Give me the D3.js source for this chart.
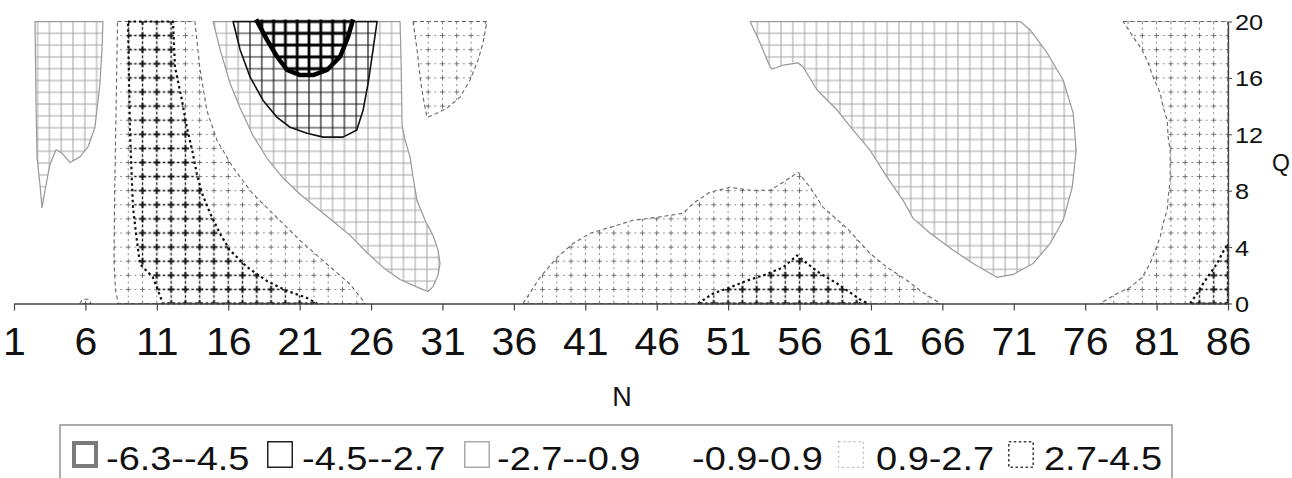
<!DOCTYPE html>
<html>
<head>
<meta charset="utf-8">
<script src="https://cdn.jsdelivr.net/npm/d3@7"></script>
<style>
  html, body { margin: 0; padding: 0; background: #fff; }
  svg { display: block; }
  text { font-family: "Liberation Sans", Arial, Helvetica, sans-serif; fill: #111; }
</style>
</head>
<body>
<svg id="chart" width="1292" height="478"></svg>
<script>
// tick labels and legend
var nTicks = [1, 6, 11, 16, 21, 26, 31, 36, 41, 46, 51, 56, 61, 66, 71, 76, 81, 86];
var qTicks = [0, 4, 8, 12, 16, 20];
var bandLabels = ["-6.3--4.5", "-4.5--2.7", "-2.7--0.9", "-0.9-0.9", "0.9-2.7", "2.7-4.5"];

// contour band outlines, [N, Q]
// band -2.7..-0.9
var leftStrip = [[2.47,20],[2.54,14.4],[2.61,10.4],[2.82,8.4],[2.96,6.8],[3.17,8.0],[3.5,9.8],[3.94,10.9],[4.36,10.66],[4.92,10.0],[5.62,10.4],[6.18,11.1],[6.67,12.5],[7.02,15.6],[7.16,18],[7.23,20]];
var midTrough = [[14.94,20],[28.03,20],[28.1,17.3],[28.17,12.65],[28.38,11.6],[28.73,10.4],[28.94,8.96],[29.22,7.3],[29.78,5.9],[30.34,4.83],[30.69,3.77],[30.83,2.84],[30.69,2.0],[30.34,1.2],[29.99,0.85],[29.43,1.07],[28.03,1.7],[26.84,2.56],[25.72,3.6],[24.53,4.83],[23.34,5.83],[22.22,6.75],[21.03,7.75],[19.84,8.9],[18.72,10.3],[17.74,11.9],[16.83,13.86],[16.13,15.6],[15.43,18]];
var rightLobe = [[52.54,20],[53.24,18.48],[53.94,16.77],[54.08,16.63],[54.85,16.9],[55.9,17.06],[56.25,16.77],[57.23,15.14],[58.63,13.72],[59.75,12.3],[60.94,10.87],[62.13,8.96],[63.25,7.32],[63.95,6.04],[65.15,4.98],[66.76,3.77],[68.16,2.84],[69.84,1.85],[70.96,2.06],[72.36,2.84],[73.55,4.26],[74.46,5.9],[75.09,8.24],[75.37,10.87],[75.16,13.5],[74.46,15.85],[73.34,17.77],[72.15,19.4],[71.45,20]];
// band -4.5..-2.7
var innerTrough = [[16.34,20],[16.83,18.0],[17.53,16.06],[18.44,14.4],[19.42,13.2],[20.33,12.5],[21.52,12.08],[22.64,11.8],[24.04,11.8],[25.0,12.3],[25.44,13.7],[25.79,15.6],[26.14,18.0],[26.42,20]];
// band -6.3..-4.5
var coreTrough = [[17.95,20.15],[18.72,18.7],[19.42,17.5],[20.12,16.56],[21.03,16.2],[21.94,16.2],[22.92,16.56],[23.83,17.5],[24.39,18.9],[24.74,20.15]];
// band 0.9..2.7
var leftRidge = [[8.25,20],[13.67,20],[14.0,16.8],[14.5,13.7],[15.2,11.6],[16.3,9.7],[17.7,7.8],[19.4,6.1],[21.0,4.5],[22.9,2.8],[24.5,1.4],[25.6,0],[8.3,0],[8.1,1],[8.0,3],[8.05,8],[8.15,14]];
var smallBump = [[5.6,0],[5.8,0.3],[6.2,0.3],[6.4,0]];
var topPocket = [[28.94,20],[29.22,18],[29.43,16.06],[29.64,14.64],[29.92,13.2],[30.34,13.36],[31.32,13.86],[32.23,14.64],[32.93,15.85],[33.49,17.27],[33.84,18.48],[34.12,20]];
var midHump = [[36.64,0],[37.83,1.85],[39.03,3.27],[40.15,4.26],[41.34,4.98],[42.74,5.4],[44.35,5.9],[46.03,6.11],[47.85,6.4],[48.55,7.1],[49.74,7.9],[51.14,8.24],[52.54,8.03],[53.94,8.03],[54.85,8.6],[55.9,9.31],[56.74,8.24],[57.65,6.82],[59.33,5.33],[60.94,3.55],[62.13,2.56],[63.54,1.63],[64.45,0.92],[65.85,0]];
var rightRidge = [[78.66,20],[86,20],[86,0],[77.05,0],[78.24,0.71],[79.15,1.14],[79.99,1.85],[80.55,2.84],[80.9,3.77],[81.25,4.69],[81.46,5.69],[81.74,6.61],[81.81,7.53],[81.95,8.74],[81.95,9.67],[81.95,10.87],[81.81,11.8],[81.74,13.0],[81.46,13.93],[81.25,14.93],[80.76,16.06],[80.41,17.06],[79.99,17.98],[79.36,18.9]];
// band 2.7..4.5
var leftPeak = [[8.98,20],[12.13,20],[12.27,16.8],[12.76,14.4],[13.1,12.5],[13.47,10.9],[13.8,9.2],[14.17,7.8],[14.73,6.4],[15.4,5.0],[16.1,3.8],[17.3,2.6],[18.7,1.6],[20.1,0.9],[21.5,0.4],[22.2,0],[11.43,0],[10.73,1.85],[9.82,2.8],[9.6,4.5],[9.33,6.8],[9.12,12.1]];
var midPeak = [[48.9,0],[49.95,0.71],[51.14,1.14],[52.33,1.63],[53.45,1.99],[54.85,2.56],[55.83,3.41],[56.53,2.84],[57.44,2.13],[58.63,1.42],[59.54,0.78],[60.24,0.28],[60.8,0]];
var cornerPeak = [[83.35,0],[83.84,0.71],[84.26,1.42],[84.75,2.13],[85.24,2.84],[85.59,3.55],[86,4.26],[86,0]];

// drawing order: outer bands first, nested ones on top
var regions = [
    {band: 2, pts: leftStrip}, {band: 2, pts: midTrough}, {band: 2, pts: rightLobe},
    {band: 1, pts: innerTrough}, {band: 0, pts: coreTrough},
    {band: 4, pts: leftRidge}, {band: 4, pts: smallBump}, {band: 4, pts: topPocket},
    {band: 4, pts: midHump}, {band: 4, pts: rightRidge},
    {band: 5, pts: leftPeak}, {band: 5, pts: midPeak}, {band: 5, pts: cornerPeak}
];

var svg = d3.select("#chart");
var x = d3.scaleLinear().domain([1, 86]).range([14, 1228]);
var y = d3.scaleLinear().domain([0, 20]).range([303.5, 21.5]);

var defs = svg.append("defs");

// pattern tiles centred on a mark, so no stroke gets cut at the tile edge
function makePattern(id, pw, ph, parts) {
    var p = defs.append("pattern")
        .attr("id", id)
        .attr("patternUnits", "userSpaceOnUse")
        .attr("x", x(1) - pw / 2)
        .attr("y", y(20) - ph / 2)
        .attr("width", pw)
        .attr("height", ph);
    p.append("rect").attr("width", pw).attr("height", ph).attr("fill", "#fff");
    parts.forEach(function (s) {
        p.append("path").attr("d", s.d).attr("stroke", s.c).attr("stroke-width", s.sw).attr("fill", "none");
    });
}
function gridD(pw, ph) {
    return "M0," + ph / 2 + "H" + pw + "M" + pw / 2 + ",0V" + ph;
}
// grid fills are in pixels, plus fills sit on the data grid
var g = 11.8;
makePattern("pat0", g, g, [{d: gridD(g, g), c: "#000", sw: 2.8}]);
makePattern("pat1", g, g, [{d: gridD(g, g), c: "#1a1a1a", sw: 1.2}]);
makePattern("pat2", g, g, [{d: gridD(g, g), c: "#a4a4a4", sw: 1}]);

var w = x(2) - x(1), h = y(0) - y(1);
function plusParts(a, e, c, sw, esw) {
    var cx = w / 2, cy = h / 2;
    return [
        {d: "M" + (cx - a) + "," + cy + "H" + (cx + a) + "M" + cx + "," + (cy - a) + "V" + (cy + a), c: c, sw: sw},
        {d: "M0," + cy + "H" + e + "M" + (w - e) + "," + cy + "H" + w +
            "M" + cx + ",0V" + e + "M" + cx + "," + (h - e) + "V" + h, c: c, sw: esw}
    ];
}
makePattern("pat4", w, h, plusParts(2.6, 0.9, "#666", 0.9, 0.8));
makePattern("pat5", w, h, plusParts(3.6, 1.3, "#111", 2, 1.3));

var bandStyle = [
    {fill: "url(#pat0)", stroke: "#000", sw: 4.5, dash: null},
    {fill: "url(#pat1)", stroke: "#111", sw: 1.6, dash: null},
    {fill: "url(#pat2)", stroke: "#999", sw: 1.2, dash: null},
    {fill: "#fff", stroke: "none", sw: 0, dash: null},
    {fill: "url(#pat4)", stroke: "#666", sw: 1.1, dash: "4,3"},
    {fill: "url(#pat5)", stroke: "#111", sw: 2.2, dash: "2.5,3"}
];

var line = d3.line().x(d => x(d[0])).y(d => y(d[1]));

var gRegions = svg.append("g");
regions.forEach(function (r) {
    var st = bandStyle[r.band];
    gRegions.append("path")
        .attr("d", line(r.pts) + "Z")
        .attr("fill", st.fill)
        .attr("stroke", "none");
    gRegions.append("path")
        .attr("d", r.band === 0 ? line(r.pts) : line(r.pts) + "Z")
        .attr("fill", "none")
        .attr("stroke", st.stroke)
        .attr("stroke-width", st.sw)
        .attr("stroke-dasharray", st.dash)
        .attr("stroke-linejoin", "round");
});

// x axis
var gx = svg.append("g")
    .attr("transform", "translate(0," + y(0) + ")")
    .call(d3.axisBottom(x).tickValues(nTicks).tickSize(7).tickSizeOuter(0).tickFormat(d3.format("d")));
gx.attr("font-family", null).attr("font-size", null);
gx.select(".domain").attr("stroke", "#444").attr("stroke-width", 1.3);
gx.selectAll(".tick line").attr("stroke", "#444").attr("stroke-width", 1.2);
gx.selectAll(".tick text")
    .attr("y", 52).attr("dy", null)
    .attr("font-size", 38)
    .attr("transform", "scale(1.08,1)");

// Q axis on the right
var gy = svg.append("g")
    .attr("transform", "translate(" + x(86) + ",0)")
    .call(d3.axisRight(y).tickValues(qTicks).tickSize(4).tickSizeOuter(0).tickPadding(2));
gy.attr("font-family", null).attr("font-size", null);
gy.select(".domain").attr("stroke", "#444").attr("stroke-width", 1.3);
gy.selectAll(".tick line").attr("stroke", "#444");
gy.selectAll(".tick text")
    .attr("font-size", 22)
    .attr("dy", "0.36em")
    .attr("transform", "scale(1.15,1)");

svg.append("text").attr("x", 1281).attr("y", 171).attr("text-anchor", "middle")
    .attr("font-size", 23).text("Q");
svg.append("text").attr("x", 622).attr("y", 406).attr("text-anchor", "middle")
    .attr("font-size", 27).text("N");

// legend
var legend = svg.append("g");
legend.append("rect")
    .attr("x", 60).attr("y", 425).attr("width", 1112).attr("height", 70)
    .attr("fill", "none").attr("stroke", "#8a8a8a").attr("stroke-width", 1.4);

var swatchX = [72, 267, 464, 660, 838, 1008];
var textX = [106, 302, 497, 692, 876, 1044];
var swatchStyle = [
    {stroke: "#7a7a7a", sw: 4, dash: null},
    {stroke: "#222", sw: 1.5, dash: null},
    {stroke: "#aaa", sw: 1.5, dash: null},
    {stroke: "none", sw: 0, dash: null},
    {stroke: "#bbb", sw: 1.2, dash: "2,3"},
    {stroke: "#444", sw: 1.6, dash: "2.5,2.5"}
];
bandLabels.forEach(function (lab, i) {
    var st = swatchStyle[i];
    legend.append("rect")
        .attr("x", swatchX[i] + st.sw / 2).attr("y", 441 + st.sw / 2)
        .attr("width", 26 - st.sw).attr("height", 27 - st.sw)
        .attr("fill", "#fff")
        .attr("stroke", st.stroke).attr("stroke-width", st.sw)
        .attr("stroke-dasharray", st.dash);
    legend.append("text")
        .attr("transform", "translate(" + textX[i] + ",470) scale(1.15,1)")
        .attr("font-size", 33)
        .text(lab);
});
</script>
</body>
</html>
